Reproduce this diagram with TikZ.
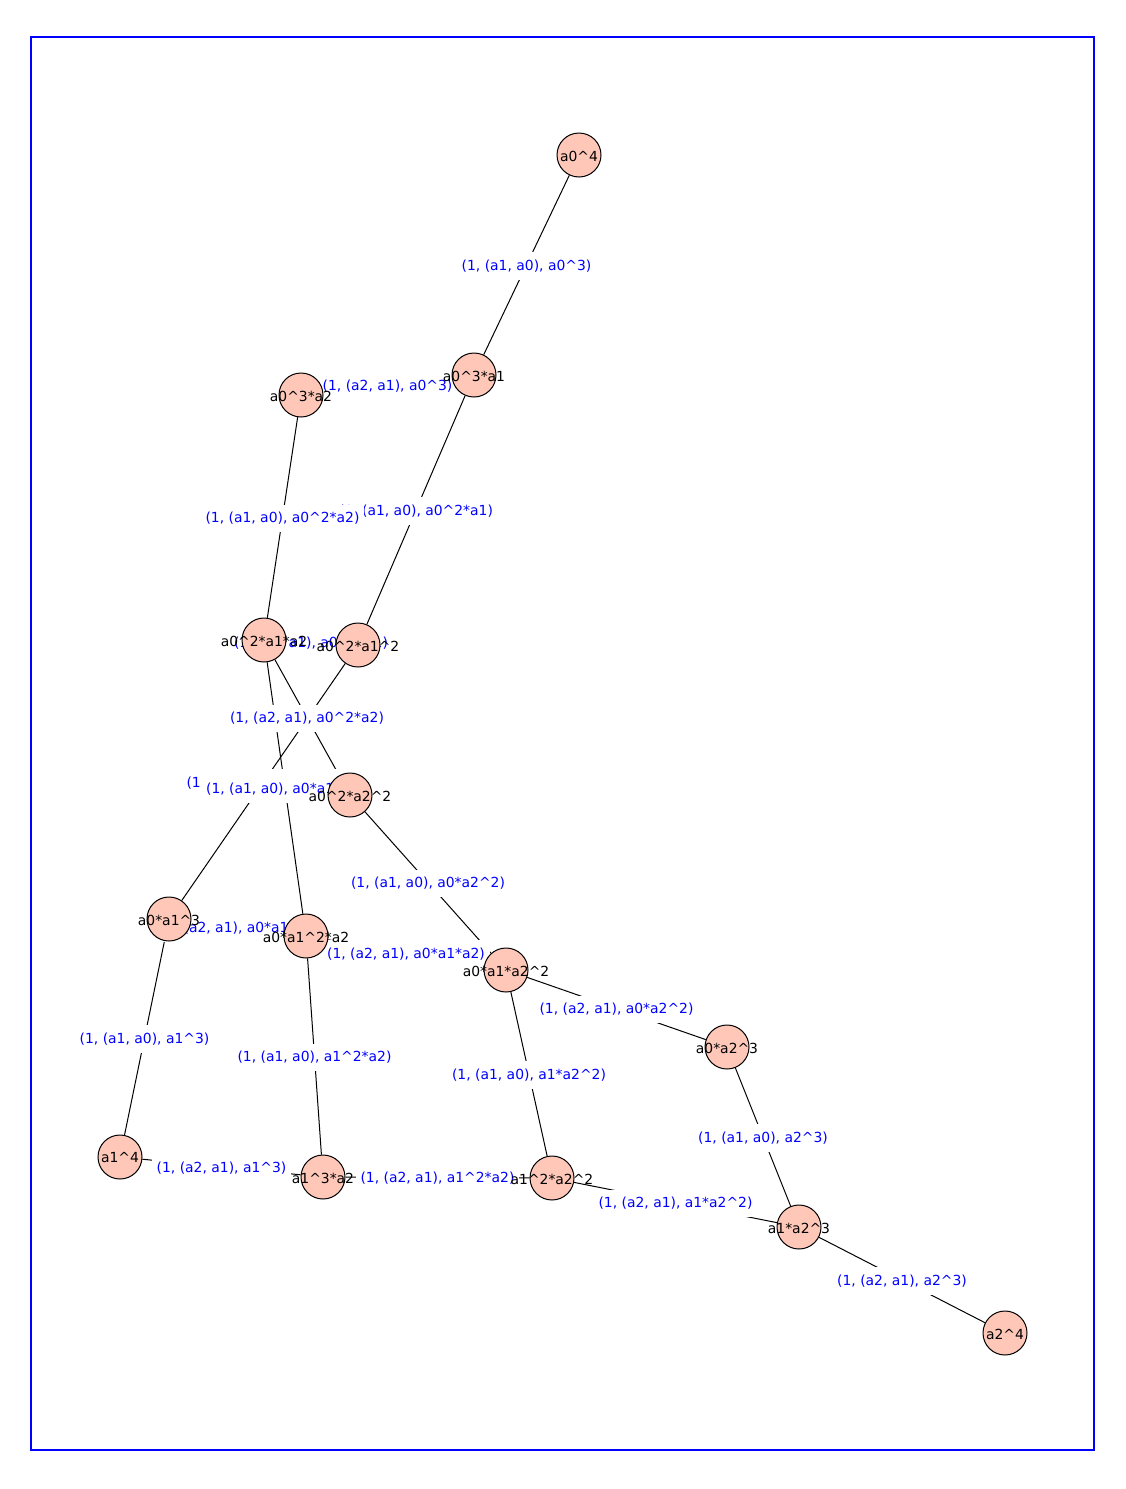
\documentclass[tikz,border=0pt]{standalone}
\usepackage{fontspec}
\setmainfont{DejaVu Sans}
\pgfdeclarelayer{bg}
\pgfsetlayers{bg,main}
\definecolor{vfill}{HTML}{FEC7B8}
\newcommand\hatc{\textasciicircum}
\begin{document}
\begin{tikzpicture}[x=0.5pt,y=-0.5pt,
  vtx/.style={circle,draw=black,line width=0.5pt,fill=vfill,minimum size=22pt,inner sep=0pt},
  vlab/.style={font=\fontsize{6.95}{8}\selectfont,text=black,inner sep=0pt,yshift=-0.5pt},
  elab/.style={font=\fontsize{6.95}{8}\selectfont,text=blue,fill=white,inner xsep=2.5pt,inner ysep=3.75pt,yshift=-0.5pt},
  edge/.style={draw=black,line width=0.5pt}]
\useasboundingbox (0,0) rectangle (1125,1489);
\draw[blue,line width=0.75pt] (31,37) rectangle (1094,1450);

% vertices (monomials of degree 4)
\node[vtx] (v400) at (579,155) {};
\node[vtx] (v310) at (474,375) {};
\node[vtx] (v301) at (301,395) {};
\node[vtx] (v220) at (358,645) {};
\node[vtx] (v211) at (264,640) {};
\node[vtx] (v202) at (350,795) {};
\node[vtx] (v130) at (169,919) {};
\node[vtx] (v121) at (306,936) {};
\node[vtx] (v112) at (506,970) {};
\node[vtx] (v103) at (727,1047) {};
\node[vtx] (v040) at (120,1157) {};
\node[vtx] (v031) at (323,1177) {};
\node[vtx] (v022) at (552,1178) {};
\node[vtx] (v013) at (799,1227) {};
\node[vtx] (v004) at (1005,1333) {};

\begin{pgfonlayer}{bg}
% edges
\draw[edge] (v400) -- (v310) coordinate[midway] (m1);
\draw[edge] (v310) -- (v301) coordinate[midway] (m2);
\draw[edge] (v310) -- (v220) coordinate[midway] (m3);
\draw[edge] (v301) -- (v211) coordinate[midway] (m4);
\draw[edge] (v220) -- (v211) coordinate[midway] (m5);
\draw[edge] (v220) -- (v130) coordinate[midway] (m6);
\draw[edge] (v211) -- (v121) coordinate[midway] (m7);
\draw[edge] (v211) -- (v202) coordinate[midway] (m8);
\draw[edge] (v202) -- (v112) coordinate[midway] (m9);
\draw[edge] (v130) -- (v121) coordinate[midway] (m10);
\draw[edge] (v121) -- (v112) coordinate[midway] (m11);
\draw[edge] (v112) -- (v103) coordinate[midway] (m12);
\draw[edge] (v130) -- (v040) coordinate[midway] (m13);
\draw[edge] (v121) -- (v031) coordinate[midway] (m14);
\draw[edge] (v112) -- (v022) coordinate[midway] (m15);
\draw[edge] (v103) -- (v013) coordinate[midway] (m16);
\draw[edge] (v040) -- (v031) coordinate[midway] (m17);
\draw[edge] (v031) -- (v022) coordinate[midway] (m18);
\draw[edge] (v022) -- (v013) coordinate[midway] (m19);
\draw[edge] (v013) -- (v004) coordinate[midway] (m20);
% edge labels
\node[elab] (l1) at (m1) {(1, (a1, a0), a0\hatc 3)};
\node[elab] (l2) at (m2) {(1, (a2, a1), a0\hatc 3)};
\node[elab] (l3) at (m3) {(1, (a1, a0), a0\hatc 2*a1)};
\node[elab] (l4) at (m4) {(1, (a1, a0), a0\hatc 2*a2)};
\node[elab] (l5) at (m5) {(1, (a2, a1), a0\hatc 2*a1)};
\node[elab] (l6) at (m6) {(1, (a1, a0), a0*a1\hatc 2)};
\node[elab] (l7) at (m7) {(1, (a1, a0), a0*a1*a2)};
\node[elab] (l8) at (m8) {(1, (a2, a1), a0\hatc 2*a2)};
\node[elab] (l9) at (m9) {(1, (a1, a0), a0*a2\hatc 2)};
\node[elab] (l10) at (m10) {(1, (a2, a1), a0*a1\hatc 2)};
\node[elab] (l11) at (m11) {(1, (a2, a1), a0*a1*a2)};
\node[elab] (l12) at (m12) {(1, (a2, a1), a0*a2\hatc 2)};
\node[elab] (l13) at (m13) {(1, (a1, a0), a1\hatc 3)};
\node[elab] (l14) at (m14) {(1, (a1, a0), a1\hatc 2*a2)};
\node[elab] (l15) at (m15) {(1, (a1, a0), a1*a2\hatc 2)};
\node[elab] (l16) at (m16) {(1, (a1, a0), a2\hatc 3)};
\node[elab] (l17) at (m17) {(1, (a2, a1), a1\hatc 3)};
\node[elab] (l18) at (m18) {(1, (a2, a1), a1\hatc 2*a2)};
\node[elab] (l19) at (m19) {(1, (a2, a1), a1*a2\hatc 2)};
\node[elab] (l20) at (m20) {(1, (a2, a1), a2\hatc 3)};
\end{pgfonlayer}

% vertex labels
\node[vlab] (t400) at (v400) {a0\hatc 4};
\node[vlab] (t310) at (v310) {a0\hatc 3*a1};
\node[vlab] (t301) at (v301) {a0\hatc 3*a2};
\node[vlab] (t220) at (v220) {a0\hatc 2*a1\hatc 2};
\node[vlab] (t211) at (v211) {a0\hatc 2*a1*a2};
\node[vlab] (t202) at (v202) {a0\hatc 2*a2\hatc 2};
\node[vlab] (t130) at (v130) {a0*a1\hatc 3};
\node[vlab] (t121) at (v121) {a0*a1\hatc 2*a2};
\node[vlab] (t112) at (v112) {a0*a1*a2\hatc 2};
\node[vlab] (t103) at (v103) {a0*a2\hatc 3};
\node[vlab] (t040) at (v040) {a1\hatc 4};
\node[vlab] (t031) at (v031) {a1\hatc 3*a2};
\node[vlab] (t022) at (v022) {a1\hatc 2*a2\hatc 2};
\node[vlab] (t013) at (v013) {a1*a2\hatc 3};
\node[vlab] (t004) at (v004) {a2\hatc 4};
\end{tikzpicture}
\end{document}
